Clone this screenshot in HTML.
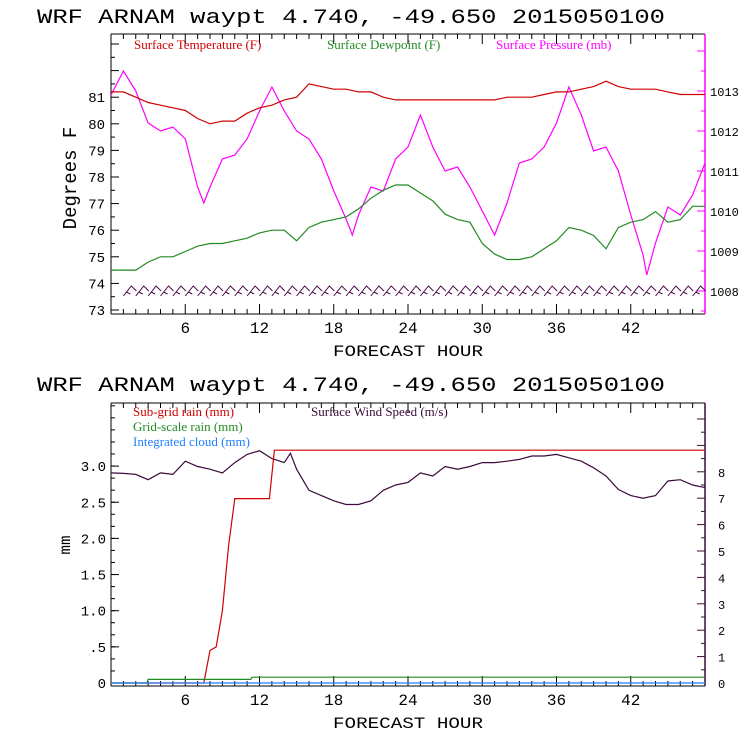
<!DOCTYPE html>
<html><head><meta charset="utf-8"><style>
body{margin:0;background:#fff;width:740px;height:740px;overflow:hidden}
</style></head><body>
<svg id="chart" width="740" height="740" font-family="Liberation Sans, sans-serif" xmlns="http://www.w3.org/2000/svg">
<text x="37" y="23" style="font-family:'Liberation Mono',monospace" font-size="20" textLength="628" lengthAdjust="spacingAndGlyphs">WRF  ARNAM waypt    4.740, -49.650  2015050100</text>
<text x="37" y="391" style="font-family:'Liberation Mono',monospace" font-size="20" textLength="628" lengthAdjust="spacingAndGlyphs">WRF  ARNAM waypt    4.740, -49.650  2015050100</text>
<g id="top"></g>
<g id="bot"></g>
</svg>
<script>
const xTicks=[6,12,18,24,30,36,42];
const tempHours=[0,1,2,3,4,5,6,7,8,9,10,11,12,13,14,15,16,17,18,19,20,21,22,23,24,25,26,27,28,29,30,31,32,33,34,35,36,37,38,39,40,41,42,43,44,45,46,47,48];
const tempF=[81.2,81.2,81.0,80.8,80.7,80.6,80.5,80.2,80.0,80.1,80.1,80.4,80.6,80.7,80.9,81.0,81.5,81.4,81.3,81.3,81.2,81.2,81.0,80.9,80.9,80.9,80.9,80.9,80.9,80.9,80.9,80.9,81.0,81.0,81.0,81.1,81.2,81.2,81.3,81.4,81.6,81.4,81.3,81.3,81.3,81.2,81.1,81.1,81.1];
const dewF=[74.5,74.5,74.5,74.8,75.0,75.0,75.2,75.4,75.5,75.5,75.6,75.7,75.9,76.0,76.0,75.6,76.1,76.3,76.4,76.5,76.8,77.2,77.5,77.7,77.7,77.4,77.1,76.6,76.4,76.3,75.5,75.1,74.9,74.9,75.0,75.3,75.6,76.1,76.0,75.8,75.3,76.1,76.3,76.4,76.7,76.3,76.4,76.9,76.9];
const presHours=[0,1,2,3,4,5,6,7,7.5,8,9,10,11,12,13,14,15,16,17,18,19,19.5,20,21,22,23,24,25,26,27,28,29,30,31,32,33,34,35,36,37,38,39,40,41,42,43,43.3,44,45,46,47,48];
const presMb=[1012.9,1013.5,1013.0,1012.2,1012.0,1012.1,1011.8,1010.6,1010.2,1010.6,1011.3,1011.4,1011.8,1012.5,1013.1,1012.5,1012.0,1011.8,1011.3,1010.5,1009.8,1009.4,1009.9,1010.6,1010.5,1011.3,1011.6,1012.4,1011.6,1011.0,1011.1,1010.6,1010.0,1009.4,1010.2,1011.2,1011.3,1011.6,1012.2,1013.1,1012.4,1011.5,1011.6,1011.0,1009.9,1008.9,1008.4,1009.2,1010.1,1009.9,1010.4,1011.2];
const windHours=[0,1,2,3,4,5,6,7,8,9,10,11,12,13,14,14.5,15,16,17,18,19,20,21,22,23,24,25,26,27,28,29,30,31,32,33,34,35,36,37,38,39,40,41,42,43,44,45,46,47,48];
const windMs=[7.96,7.94,7.9,7.7,7.96,7.9,8.4,8.2,8.1,7.96,8.35,8.66,8.8,8.5,8.35,8.7,8.1,7.3,7.1,6.9,6.76,6.76,6.9,7.3,7.5,7.6,7.96,7.84,8.2,8.1,8.2,8.35,8.35,8.4,8.47,8.6,8.6,8.66,8.53,8.4,8.15,7.84,7.33,7.1,7.0,7.1,7.65,7.7,7.5,7.4];
const rainHours=[0,7.5,8,8.5,9,9.5,10,12.8,13.2,48];
const rainMm=[0,0,0.45,0.5,1.0,1.9,2.55,2.55,3.22,3.22];
const gridHours=[0,2.9,3,11.3,11.4,48];
const gridMm=[0,0,0.05,0.05,0.08,0.08];
const cloudHours=[0,48];
const cloudMm=[0,0];
const tempTicks=[73,74,75,76,77,78,79,80,81];
const presTicks=[1008,1009,1010,1011,1012,1013];
const mmTicks=[0,0.5,1.0,1.5,2.0,2.5,3.0];
const mmLabels=["0",".5","1.0","1.5","2.0","2.5","3.0"];
const windTicks=[0,1,2,3,4,5,6,7,8];

const NS="http://www.w3.org/2000/svg";
const MONO="'Liberation Mono',monospace", SERIF="'Liberation Serif',serif";
const X0=111,X1=705;
const xs=h=>X0+(X1-X0)*h/48;
const T={top:34,bot:314};
const yT=v=>310-(v-73)*26.6;
const yP=v=>291-(v-1008)*40;
const B={top:403,bot:686};
const yM=v=>683-v*72.3;
const yW=v=>683-v*26.4;
function el(par,tag,attrs){const e=document.createElementNS(NS,tag);for(const k in attrs)e.setAttribute(k,attrs[k]);par.appendChild(e);return e;}
function line(g,hs,vs,fy,col,name){
  const p=el(g,'polyline',{points:hs.map((h,i)=>xs(h).toFixed(1)+','+fy(vs[i]).toFixed(1)).join(' '),fill:'none',stroke:col,'stroke-width':1.2});
  
  
}
function txt(g,x,y,s,opt,font){const t=el(g,'text',Object.assign({x:x,y:y},opt||{}));if(font)t.setAttribute('style','font-family:'+font);t.textContent=s;return t;}
function frame(g,P,rightCol){
  el(g,'line',{x1:X0,y1:P.top,x2:X1,y2:P.top,stroke:'#000'});
  el(g,'line',{x1:X0,y1:P.bot,x2:X1,y2:P.bot,stroke:'#000'});
  el(g,'line',{x1:X0,y1:P.top,x2:X0,y2:P.bot,stroke:'#000'});
  el(g,'line',{x1:X1,y1:P.top,x2:X1,y2:P.bot,stroke:rightCol,'stroke-width':1.5});
  for(let h=1;h<48;h++){const L=h%6==0?10:5;
    el(g,'line',{x1:xs(h),y1:P.bot,x2:xs(h),y2:P.bot-L,stroke:'#000'});
    el(g,'line',{x1:xs(h),y1:P.top,x2:xs(h),y2:P.top+L,stroke:'#000'});}
  xTicks.forEach(h=>{const t=txt(g,xs(h),P.bot+19,String(h),{'font-size':16,'text-anchor':'middle'},MONO);
    });
  const xt=txt(g,408,P.bot+42,'FORECAST HOUR',{'font-size':16,'text-anchor':'middle',textLength:150,lengthAdjust:'spacingAndGlyphs'},MONO);
  
}
const g1=document.getElementById('top');
frame(g1,T,'#f0f');
for(let v=73;v<=83.3;v+=0.5){const L=(v%1==0)?8:4;el(g1,'line',{x1:X0,y1:yT(v),x2:X0+L,y2:yT(v),stroke:'#000'});}
for(let v=1007.5;v<=1014.5;v+=0.5){const y=yP(v);if(y<T.top||y>T.bot)continue;const L=(v%1==0)?8:4;el(g1,'line',{x1:X1,y1:y,x2:X1-L,y2:y,stroke:'#f0f'});}
tempTicks.forEach(v=>{const t=txt(g1,105,yT(v)+5,String(v),{'font-size':14,'text-anchor':'end'},MONO);});
presTicks.forEach(v=>{const t=txt(g1,710,yP(v)+5,String(v),{'font-size':12},MONO);});
const yl=txt(g1,0,0,'Degrees F',{'font-size':19,'text-anchor':'middle',transform:'translate(76,178) rotate(-90)'},MONO);

[['Surface Temperature (F)',134,'#d00000'],['Surface Dewpoint (F)',327,'#228b22'],['Surface Pressure (mb)',496,'#f0f']].forEach(a=>{
  const t=txt(g1,a[1],49,a[0],{'font-size':13,fill:a[2]},SERIF);
  });
line(g1,presHours,presMb,yP,'#f0f','pressure-line');
line(g1,tempHours,tempF,yT,'#d00000','temperature-line');
line(g1,tempHours,dewF,yT,'#228b22','dewpoint-line');
const bg=el(g1,'g',{stroke:'#4b0a4b',fill:'none','stroke-width':1});

for(let h=1;h<48;h+=1){const x=xs(h);el(bg,'polyline',{points:`${x},296 ${x+8},286 ${x+13},291`});el(bg,'line',{x1:x+3,y1:292,x2:x+7,y2:294});}
const g2=document.getElementById('bot');
frame(g2,B,'#3a0a3a');
for(let v=0;v<=3.9;v+=0.1667){el(g2,'line',{x1:X0,y1:yM(v),x2:X0+4,y2:yM(v),stroke:'#000'});}
mmTicks.forEach(v=>el(g2,'line',{x1:X0,y1:yM(v),x2:X0+8,y2:yM(v),stroke:'#000'}));
for(let v=0.5;v<=10;v+=0.5){const y=yW(v);if(y<B.top)continue;el(g2,'line',{x1:X1,y1:y,x2:X1-(v%1==0?8:4),y2:y,stroke:'#3a0a3a'});}
mmTicks.forEach((v,i)=>{const t=txt(g2,106,yM(v)+5,mmLabels[i],{'font-size':14,'text-anchor':'end'},MONO);});
windTicks.forEach(v=>{const t=txt(g2,718,yW(v)+5,String(v),{'font-size':12},MONO);});
const yl2=txt(g2,0,0,'mm',{'font-size':16,'text-anchor':'middle',transform:'translate(70,545) rotate(-90)'},MONO);

[['Sub-grid rain (mm)',133,416,'#d00000'],['Surface Wind Speed (m/s)',311,416,'#3a0a3a'],['Grid-scale rain (mm)',133,431,'#228b22'],['Integrated cloud (mm)',133,446,'#1e7fff']].forEach(a=>{
  const t=txt(g2,a[1],a[2],a[0],{'font-size':13,fill:a[3]},SERIF);
  });
line(g2,windHours,windMs,yW,'#3a0a3a','wind-speed-line');
line(g2,rainHours,rainMm,yM,'#d00000','subgrid-rain-line');
line(g2,gridHours,gridMm,yM,'#228b22','gridscale-rain-line');
line(g2,cloudHours,cloudMm,yM,'#1e7fff','cloud-line');
</script>
</body></html>
